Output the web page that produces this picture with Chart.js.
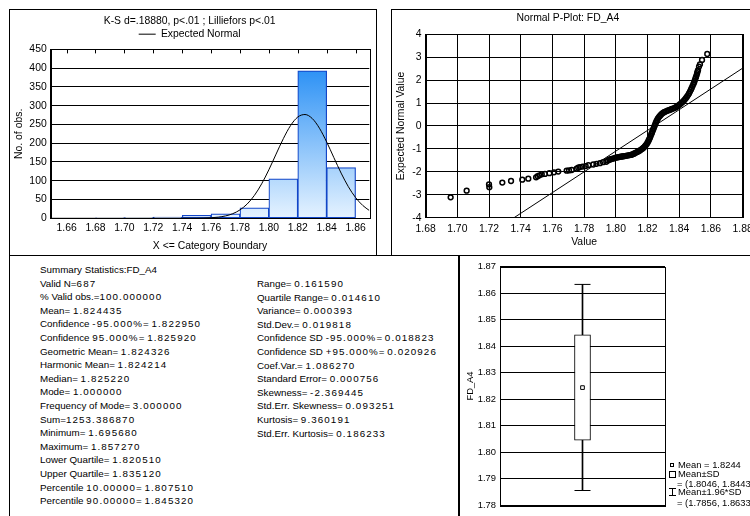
<!DOCTYPE html>
<html>
<head>
<meta charset="utf-8">
<script src="https://cdn.jsdelivr.net/npm/chart.js@4.4.1/dist/chart.umd.min.js"></script>
<style>
html, body { margin:0; padding:0; width:750px; height:516px; overflow:hidden; background:#fff; }
body { position:relative; font-family:"Liberation Sans", Arial, sans-serif; color:#000; }
.frame { position:absolute; border:1px solid #000; box-sizing:border-box; }
canvas { position:absolute; }
.stats { position:absolute; font-size:9.8px; line-height:13.6px; white-space:pre; }
.stats .num { letter-spacing:1.1px; }
.leg { position:absolute; font-size:9.4px; line-height:10px; white-space:pre; }
.ico { position:absolute; border:1px solid #000; box-sizing:border-box; background:#fff; }
</style>
</head>
<body>
<div class="frame" style="left:9px;top:9px;width:368px;height:247px;"></div>
<div class="frame" style="left:391px;top:9px;width:370px;height:247px;"></div>
<div class="frame" style="left:9px;top:255px;width:451px;height:270px;"></div>
<div class="frame" style="left:458px;top:255px;width:300px;height:270px;border-left-width:2px;"></div>
<canvas id="hist" width="366" height="244" style="left:10px;top:10px"></canvas>
<canvas id="pplot" width="370" height="244" style="left:393px;top:10px"></canvas>
<div id="statsLeft" class="stats" style="left:40px;top:263px"></div>
<div id="statsRight" class="stats" style="left:257px;top:277px"></div>
<canvas id="box" width="300" height="258" style="left:460px;top:257px"></canvas>
<div id="boxLegend"></div>
<script>
// histogram: bins of 0.02, counts
const histTicks = [1.66, 1.68, 1.70, 1.72, 1.74, 1.76, 1.78, 1.80, 1.82, 1.84, 1.86];
const binLow = [1.66, 1.68, 1.70, 1.72, 1.74, 1.76, 1.78, 1.80, 1.82, 1.84];
const binCount = [0, 1, 2, 3, 8, 12, 28, 105, 393, 135];
// expected normal curve
const normalX = [1.649, 1.70, 1.74, 1.75, 1.76, 1.765, 1.77, 1.775, 1.78, 1.785, 1.79, 1.795, 1.80, 1.805, 1.81, 1.815, 1.82, 1.825, 1.83, 1.835, 1.84, 1.845, 1.85, 1.855, 1.86, 1.865, 1.8695];
const normalY = [0, 0, 0.1, 0.2, 1.4, 3.1, 6.3, 12.3, 22.4, 38.2, 61.1, 91.8, 129.4, 171.1, 212.2, 247.0, 269.8, 276.5, 265.9, 240.0, 203.3, 161.5, 120.4, 84.2, 55.3, 34.1, 20.9];

// normal probability plot
const ppTicks = [1.68, 1.70, 1.72, 1.74, 1.76, 1.78, 1.80, 1.82, 1.84, 1.86, 1.88];
const ppValue = [
  1.6958, 1.7059, 1.7200, 1.7202, 1.7284, 1.7339, 1.7410, 1.7448, 1.7497, 1.7507, 1.7518, 1.7533, 1.7553, 1.7581, 1.7610, 1.7637,
  1.7690, 1.7705, 1.7722, 1.7753, 1.7763, 1.7773, 1.7790, 1.7810, 1.7827, 1.7858, 1.7878, 1.7900, 1.7920, 1.7940,
  1.7950, 1.7960, 1.7968, 1.7976, 1.7984, 1.7992, 1.8000, 1.8008, 1.8016, 1.8024, 1.8032, 1.8040, 1.8048, 1.8056, 1.8064,
  1.8072, 1.8080, 1.8088, 1.8096, 1.8104, 1.8112, 1.8120, 1.8128, 1.8136, 1.8144, 1.8152, 1.8160, 1.8168, 1.8175, 1.8182,
  1.8188, 1.8194, 1.8199, 1.8204, 1.8208, 1.8212, 1.8216, 1.8220, 1.8224, 1.8228, 1.8232, 1.8236, 1.8240, 1.8244, 1.8248,
  1.8252, 1.8256, 1.8261, 1.8266, 1.8272, 1.8278, 1.8285, 1.8292, 1.8300, 1.8308, 1.8317, 1.8326, 1.8335, 1.8344, 1.8353,
  1.8362, 1.8371, 1.8380, 1.8388, 1.8396, 1.8404, 1.8412, 1.8420, 1.8428, 1.8435, 1.8442, 1.8449, 1.8456, 1.8462, 1.8468,
  1.8474, 1.8479, 1.8484, 1.8489, 1.8494, 1.8498, 1.8502, 1.8506, 1.8510, 1.8513, 1.8516, 1.8519,
  1.8525, 1.8531, 1.8544, 1.8577
];
const ppExpected = [
  -3.11, -2.82, -2.55, -2.67, -2.47, -2.40, -2.34, -2.30, -2.24, -2.19, -2.15, -2.11, -2.09, -2.06, -2.02, -1.99,
  -1.95, -1.94, -1.92, -1.86, -1.82, -1.79, -1.77, -1.75, -1.71, -1.68, -1.65, -1.62, -1.58, -1.56,
  -1.50, -1.47, -1.45, -1.43, -1.42, -1.40, -1.38, -1.37, -1.36, -1.35, -1.34, -1.33, -1.32, -1.31, -1.30,
  -1.29, -1.28, -1.27, -1.26, -1.24, -1.22, -1.19, -1.16, -1.13, -1.10, -1.07, -1.03, -0.99, -0.95, -0.90,
  -0.85, -0.80, -0.74, -0.68, -0.62, -0.56, -0.50, -0.43, -0.36, -0.29, -0.22, -0.15, -0.08, -0.01, 0.06,
  0.13, 0.20, 0.27, 0.33, 0.39, 0.44, 0.49, 0.54, 0.58, 0.61, 0.64, 0.67, 0.69, 0.71, 0.74,
  0.76, 0.79, 0.82, 0.86, 0.90, 0.94, 0.99, 1.04, 1.09, 1.15, 1.21, 1.28, 1.35, 1.42, 1.50,
  1.58, 1.66, 1.74, 1.82, 1.90, 1.98, 2.06, 2.14, 2.22, 2.30, 2.38, 2.44,
  2.59, 2.69, 2.88, 3.14
];
const refLineX = [1.7358, 1.88];
const refLineY = [-4, 2.52];

// box plot: mean, mean±SD, mean±1.96*SD
const boxCategory = ['FD_A4'];
const boxTicks = [1.78, 1.79, 1.80, 1.81, 1.82, 1.83, 1.84, 1.85, 1.86, 1.87];
const boxMean = 1.8244;
const boxSd = [1.8046, 1.8443];
const boxWhisker = [1.7856, 1.8633];

const summaryLeft = ['Summary Statistics:FD_A4', 'Valid N=687', '% Valid obs.=100.000000', 'Mean= 1.824435',
  'Confidence -95.000%= 1.822950', 'Confidence 95.000%= 1.825920', 'Geometric Mean= 1.824326',
  'Harmonic Mean= 1.824214', 'Median= 1.825220', 'Mode= 1.000000', 'Frequency of Mode= 3.000000',
  'Sum=1253.386870', 'Minimum= 1.695680', 'Maximum= 1.857270', 'Lower Quartile= 1.820510',
  'Upper Quartile= 1.835120', 'Percentile 10.00000= 1.807510', 'Percentile 90.00000= 1.845320'];
const summaryRight = ['Range= 0.161590', 'Quartile Range= 0.014610', 'Variance= 0.000393', 'Std.Dev.= 0.019818',
  'Confidence SD -95.000%= 0.018823', 'Confidence SD +95.000%= 0.020926', 'Coef.Var.= 1.086270',
  'Standard Error= 0.000756', 'Skewness= -2.369445', 'Std.Err. Skewness= 0.093251', 'Kurtosis= 9.360191',
  'Std.Err. Kurtosis= 0.186233'];

Chart.defaults.font.family = '"Liberation Sans", Arial, sans-serif';
Chart.defaults.color = '#000';
Chart.defaults.animation = false;
Chart.defaults.plugins.tooltip.enabled = false;

const frame = {
  id: 'frame',
  afterDatasetsDraw(chart) {
    const a = chart.chartArea;
    const ctx = chart.ctx;
    ctx.save();
    ctx.strokeStyle = '#000';
    ctx.lineWidth = 1;
    ctx.strokeRect(Math.round(a.left) + 0.5, Math.round(a.top) + 0.5, Math.round(a.width), Math.round(a.height));
    ctx.restore();
  }
};

// small tick marks inside the top edge of the histogram
const topTicks = {
  id: 'topTicks',
  afterDraw(chart) {
    const x = chart.scales.x;
    const top = chart.chartArea.top;
    const ctx = chart.ctx;
    ctx.save();
    ctx.strokeStyle = '#000';
    ctx.lineWidth = 1;
    ctx.beginPath();
    x.ticks.forEach(t => {
      const px = Math.round(x.getPixelForValue(t.value)) + 0.5;
      ctx.moveTo(px, top);
      ctx.lineTo(px, top + 4);
    });
    ctx.stroke();
    ctx.restore();
  }
};

function fixedTicks(list) {
  return scale => { scale.ticks = list.map(v => ({value: v})); };
}

new Chart('hist', {
  type: 'bar',
  data: {
    datasets: [{
      type: 'line',
      label: 'Expected Normal',
      data: normalX.map((x, i) => ({x: x, y: normalY[i]})),
      borderColor: '#000',
      borderWidth: 1,
      pointRadius: 0,
      pointStyle: 'line',
      cubicInterpolationMode: 'monotone',
      order: 0
    }, {
      label: 'bins',
      data: binLow.map((lo, i) => ({x: lo + 0.01, y: binCount[i]})),
      backgroundColor: c => {
        const a = c.chart.chartArea;
        if (!a) return '#9fd0fb';
        const g = c.chart.ctx.createLinearGradient(0, a.bottom, 0, a.top);
        g.addColorStop(0, '#e6f3ff');
        g.addColorStop(1, '#1384f4');
        return g;
      },
      borderColor: '#1246c8',
      borderWidth: 1.2,
      borderSkipped: false,
      barPercentage: 1,
      categoryPercentage: 1,
      order: 1
    }]
  },
  options: {
    responsive: false,
    devicePixelRatio: 1,
    layout: {padding: {left: 0, right: 6.7, top: 0, bottom: 0}},
    plugins: {
      title: {display: true, text: 'K-S d=.18880, p<.01 ; Lilliefors p<.01', font: {size: 10.4, weight: 'normal'}, padding: {top: 4.5, bottom: 0}},
      legend: {
        display: true,
        labels: {
          filter: item => item.datasetIndex === 0,
          usePointStyle: true, pointStyle: 'line', pointStyleWidth: 17,
          font: {size: 10.4}, padding: 2, color: '#000'
        }
      }
    },
    scales: {
      x: {
        type: 'linear', min: 1.649, max: 1.8695, offset: false,
        afterBuildTicks: fixedTicks(histTicks),
        afterFit: s => { s.height = 35.7; },
        ticks: {callback: v => v.toFixed(2), font: {size: 10.4}, padding: 4, autoSkip: false, maxRotation: 0},
        grid: {display: false, drawTicks: false},
        border: {color: '#000'},
        title: {display: true, text: 'X <= Category Boundary', font: {size: 10.4}, padding: {top: 0, bottom: 2}}
      },
      y: {
        min: 0, max: 450,
        afterFit: s => { s.width = 40.7; },
        ticks: {stepSize: 50, font: {size: 10.4}, padding: 4},
        grid: {color: '#000', drawTicks: false},
        border: {color: '#000'},
        title: {display: true, text: 'No. of obs.', font: {size: 10.4}, padding: {top: 3, bottom: 0}}
      }
    }
  },
  plugins: [frame, topTicks]
});

new Chart('pplot', {
  type: 'scatter',
  data: {
    datasets: [{
      label: 'Reference',
      data: refLineX.map((x, i) => ({x: x, y: refLineY[i]})),
      showLine: true,
      borderColor: '#000',
      borderWidth: 1,
      pointRadius: 0
    }, {
      label: 'FD_A4',
      data: ppValue.map((v, i) => ({x: v, y: ppExpected[i]})),
      pointRadius: 2.4,
      pointBorderWidth: 1.5,
      pointBorderColor: '#000',
      pointBackgroundColor: 'rgba(255,255,255,0)'
    }]
  },
  options: {
    responsive: false,
    devicePixelRatio: 1,
    layout: {padding: {left: 0, right: 20.4, top: 0, bottom: 0}},
    plugins: {
      title: {display: true, text: 'Normal P-Plot: FD_A4', font: {size: 10.4, weight: 'normal'}, padding: {top: 2, bottom: 9.8}},
      legend: {display: false}
    },
    scales: {
      x: {
        type: 'linear', min: 1.68, max: 1.88,
        afterBuildTicks: fixedTicks(ppTicks),
        afterFit: s => { s.height = 36.3; },
        ticks: {callback: v => v.toFixed(2), font: {size: 10.4}, padding: 5, autoSkip: false, maxRotation: 0},
        grid: {color: '#000', drawTicks: false},
        border: {color: '#000'},
        title: {display: true, text: 'Value', font: {size: 10.4}, padding: {top: 0, bottom: 6}}
      },
      y: {
        min: -4, max: 4,
        afterFit: s => { s.width = 32.6; },
        ticks: {stepSize: 1, font: {size: 10.4}, padding: 4},
        grid: {color: '#000', drawTicks: false},
        border: {color: '#000'},
        title: {display: true, text: 'Expected Normal Value', font: {size: 10.4}, padding: {top: 2, bottom: 0}}
      }
    }
  },
  plugins: [frame]
});

new Chart('box', {
  type: 'bar',
  data: {
    labels: boxCategory,
    datasets: [{
      label: 'Mean±1.96*SD',
      data: [boxWhisker],
      backgroundColor: '#000',
      borderWidth: 0,
      barThickness: 1,
      grouped: false,
      order: 3
    }, {
      label: 'Mean±SD',
      data: [boxSd],
      backgroundColor: '#fff',
      borderColor: '#000',
      borderWidth: 1,
      borderSkipped: false,
      barThickness: 16,
      grouped: false,
      order: 2
    }, {
      type: 'line',
      label: 'upper cap',
      data: [boxWhisker[1]],
      showLine: false,
      pointStyle: 'line', pointRadius: 8, pointBorderWidth: 1, pointBorderColor: '#000',
      order: 1
    }, {
      type: 'line',
      label: 'lower cap',
      data: [boxWhisker[0]],
      showLine: false,
      pointStyle: 'line', pointRadius: 8, pointBorderWidth: 1, pointBorderColor: '#000',
      order: 1
    }, {
      type: 'line',
      label: 'Mean',
      data: [boxMean],
      showLine: false,
      pointStyle: 'rect', pointRadius: 2.6, pointBorderWidth: 1,
      pointBorderColor: '#000', pointBackgroundColor: '#fff',
      order: 0
    }]
  },
  options: {
    responsive: false,
    devicePixelRatio: 1,
    layout: {padding: {left: 0, right: 95, top: 6.3, bottom: 5}},
    plugins: {legend: {display: false}},
    scales: {
      x: {display: false},
      y: {
        min: 1.78, max: 1.87,
        afterBuildTicks: fixedTicks(boxTicks),
        afterFit: s => { s.width = 40; },
        ticks: {callback: v => v.toFixed(2), font: {size: 9.4}, padding: 4},
        grid: {color: '#000', drawTicks: false},
        border: {color: '#000'},
        title: {display: true, text: 'FD_A4', font: {size: 9.4}, padding: {top: 4.4, bottom: 0}}
      }
    }
  },
  plugins: [frame]
});

// summary text: number runs a little wider, as in the original output
function statsHtml(lines) {
  return lines.map(l => l.replace(/[-+]?[\d.]{2,}%?/g, m => '<span class="num">' + m + '</span>')).join('\n');
}
document.getElementById('statsLeft').innerHTML = statsHtml(summaryLeft);
document.getElementById('statsRight').innerHTML = statsHtml(summaryRight);

// box plot legend
const fmt = v => v.toFixed(4);
const legendHtml =
  '<div class="ico" style="left:670px;top:463px;width:4px;height:4px"></div>' +
  '<div class="leg" style="left:678px;top:460px">Mean = ' + fmt(boxMean) + '</div>' +
  '<div class="ico" style="left:669px;top:471px;width:7px;height:7px"></div>' +
  '<div class="leg" style="left:678px;top:469px">Mean±SD</div>' +
  '<div class="leg" style="left:677px;top:479px">= (' + fmt(boxSd[0]) + ', ' + fmt(boxSd[1]) + ')</div>' +
  '<div style="position:absolute;left:669px;top:488px;width:7px;height:1px;background:#000"></div>' +
  '<div style="position:absolute;left:672px;top:488px;width:1px;height:8px;background:#000"></div>' +
  '<div style="position:absolute;left:669px;top:495px;width:7px;height:1px;background:#000"></div>' +
  '<div class="leg" style="left:678px;top:487px">Mean±1.96*SD</div>' +
  '<div class="leg" style="left:677px;top:498px">= (' + fmt(boxWhisker[0]) + ', ' + fmt(boxWhisker[1]) + ')</div>';
document.getElementById('boxLegend').innerHTML = legendHtml;
</script>
</body>
</html>
